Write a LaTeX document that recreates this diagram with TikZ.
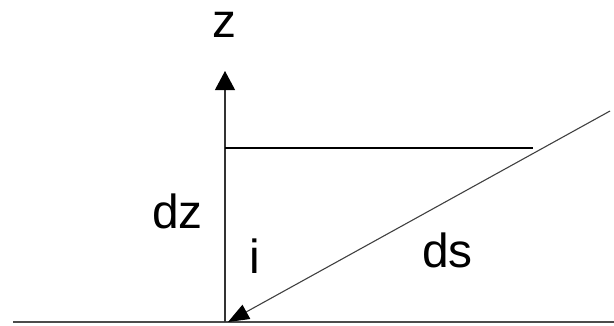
\documentclass[tikz,border=0pt]{standalone}
\usepackage{fontspec}
\setmainfont{Liberation Sans}
\usetikzlibrary{arrows.meta}
\tikzset{
  lbl/.style={inner sep=0pt, anchor=base, font=\fontsize{48}{56}\selectfont},
  axisline/.style={line width=1.1bp, black!80},
  baseline/.style={line width=1.8bp, black!70},
  hline/.style={line width=1.6bp, black},
  diag/.style={line width=1.1bp, black!75},
  tiptop/.style={-{Triangle[length=19bp,width=20bp,color=black]}},
  tipdiag/.style={-{Triangle[length=21bp,width=16bp,color=black]}}
}
\begin{document}
\begin{tikzpicture}[x=1bp,y=-1bp]
\useasboundingbox (0,0) rectangle (614,325);
% coordinates
\coordinate (L) at (13,322);
\coordinate (R) at (614,322);
\coordinate (O) at (225,322);
\coordinate (Ztip) at (225,71);
\coordinate (H1) at (225,148);
\coordinate (H2) at (533,148);
\coordinate (Dtop) at (610,111);
\coordinate (Dtip) at (228,322);
% lines
\draw[baseline] (L) -- (R);
\draw[axisline, tiptop] (O) -- (Ztip);
\draw[hline] (H1) -- (H2);
\draw[diag, tipdiag] (Dtop) -- (Dtip);
% labels
\node[lbl] (z) at (224,37) {z};
\node[lbl] (dz) at (177.5,228) {dz};
\node[lbl] (i) at (255,273) {i};
\node[lbl] (ds) at (447.5,267) {ds};
\end{tikzpicture}
\end{document}
